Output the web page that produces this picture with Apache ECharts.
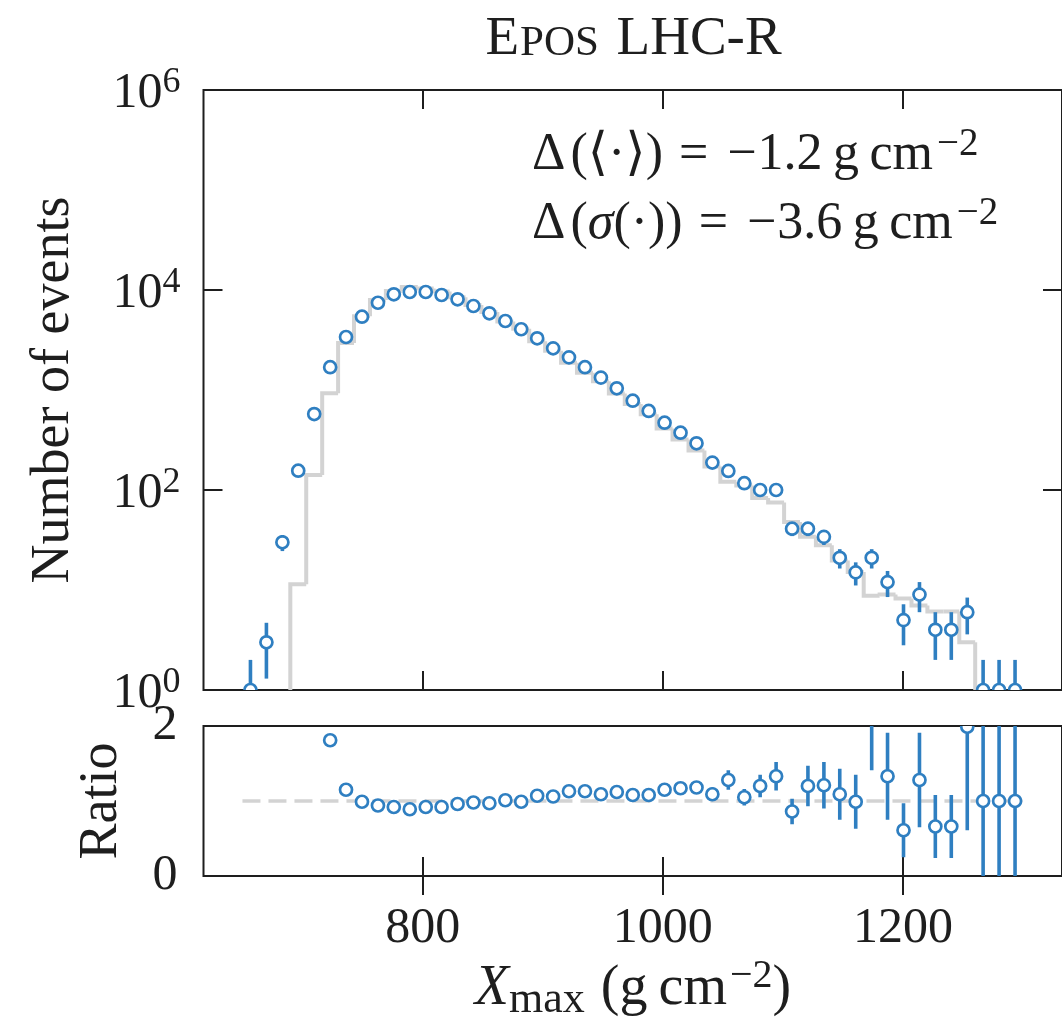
<!DOCTYPE html>
<html>
<head>
<meta charset="utf-8">
<script src="https://cdn.jsdelivr.net/npm/echarts@6/dist/echarts.min.js"></script>
<style>
html,body{margin:0;padding:0;background:#ffffff;}
#chart{width:1062px;height:1024px;}
</style>
</head>
<body>
<div id="chart"></div>
<script>
// ---------------- data ----------------
// bin centres of X_max (g cm^-2)
const xCenters = [656.6, 669.9, 683.2, 696.4, 709.7, 723.0, 736.2, 749.5, 762.8, 776.0,
  789.3, 802.6, 815.8, 829.1, 842.3, 855.6, 868.9, 882.1, 895.4, 908.7,
  921.9, 935.2, 948.5, 961.7, 975.0, 988.3, 1001.5, 1014.8, 1028.1, 1041.3,
  1054.6, 1067.9, 1081.1, 1094.4, 1107.7, 1120.9, 1134.2, 1147.4, 1160.7, 1174.0,
  1187.2, 1200.5, 1213.8, 1227.0, 1240.3, 1253.6, 1266.8, 1280.1, 1293.4];
// measured events (blue open circles)
const dataCounts = [1, 3, 30, 156, 575, 1690, 3390, 5410, 7460, 9060,
  9550, 9550, 8910, 8070, 6920, 5850, 4900, 4050, 3290, 2610,
  2120, 1690, 1330, 1040, 782, 617, 471, 374, 293, 188,
  155, 117, 100, 100, 41, 41, 34, 21, 15, 21,
  12, 5, 9, 4, 4, 6, 1, 1, 1];
const dataErr = [1, 1.7, 5.5, 12.5, 24, 41, 58, 74, 86, 95,
  98, 98, 94, 90, 83, 76, 70, 64, 57, 51,
  46, 41, 36, 32, 28, 25, 22, 19, 17, 14,
  12, 11, 10, 10, 6.4, 6.4, 5.8, 4.6, 3.9, 4.6,
  3.5, 2.2, 3, 2, 2, 2.4, 1, 1, 1];
// model histogram (grey steps)
const simCounts = [0, 0, 0, 11.4, 141, 930, 2950, 5465, 7960, 9800,
  10700, 10330, 9640, 8440, 7080, 6040, 4840, 4090, 3080, 2470,
  1870, 1490, 1220, 925, 724, 571, 411, 320, 248, 172,
  121, 111, 83, 75, 48, 34, 28, 19.7, 15.1, 8.75,
  9, 8.2, 7, 6.1, 6.1, 3, 0, 0, 0];
// ratio panel
const ratioValues = [null, null, null, null, null, 1.81, 1.15, 0.99, 0.94, 0.92,
  0.89, 0.92, 0.92, 0.96, 0.98, 0.97, 1.01, 0.99, 1.07, 1.06,
  1.13, 1.13, 1.09, 1.12, 1.08, 1.08, 1.15, 1.17, 1.18, 1.09,
  1.28, 1.05, 1.20, 1.33, 0.86, 1.20, 1.21, 1.09, 0.99, 2.4,
  1.33, 0.61, 1.28, 0.66, 0.66, 1.99, 1.0, 1.0, 1.0];
const ratioErr = [null, null, null, null, null, 0.07, 0.03, 0.02, 0.02, 0.02,
  0.02, 0.02, 0.02, 0.02, 0.02, 0.02, 0.02, 0.02, 0.03, 0.03,
  0.03, 0.04, 0.04, 0.04, 0.05, 0.05, 0.06, 0.07, 0.08, 0.09,
  0.13, 0.11, 0.15, 0.19, 0.17, 0.27, 0.31, 0.34, 0.36, 0.99,
  0.58, 0.36, 0.63, 0.42, 0.42, 1.38, 1.4, 1.4, 1.4];
const xTickValues = [800, 1000, 1200];
const ratioReference = 1;

// ---------------- style ----------------
const BLUE = '#2f7fc1';
const GREY = '#d3d3d3';
const INK = '#1e1e1e';
const FONT = "'Liberation Serif', 'DejaVu Serif', serif";
const GRID_LEFT = 203.5, GRID_W = 860;

const n = xCenters.length;
const edges = [xCenters[0] - (xCenters[1] - xCenters[0]) / 2];
for (let i = 1; i < n; i++) edges.push((xCenters[i - 1] + xCenters[i]) / 2);
edges.push(xCenters[n - 1] + (xCenters[n - 1] - xCenters[n - 2]) / 2);

const chart = echarts.init(document.getElementById('chart'), null, {renderer: 'canvas'});

function xAxisDef(gridIndex, position, showLabels) {
  return {
    type: 'value', gridIndex: gridIndex, position: position,
    min: 617.5, max: 1332.5,
    axisLine: {show: false},
    splitLine: {show: false},
    axisTick: {show: true, inside: true, length: 19, customValues: xTickValues,
      lineStyle: {color: INK, width: 2}},
    axisLabel: {show: showLabels, customValues: xTickValues, margin: 28,
      formatter: function (v) { return String(v); },
      fontSize: 50, fontFamily: FONT, color: INK}
  };
}
const tickStyle = {show: true, inside: true, length: 19, lineStyle: {color: INK, width: 2}};

function logLabel(v) {
  const e = Math.round(Math.log10(v));
  return '{b|10}{s|' + e + '}';
}
const logRich = {
  b: {fontSize: 50, fontFamily: FONT, color: INK, lineHeight: 58, verticalAlign: 'middle'},
  s: {fontSize: 36, fontFamily: FONT, color: INK, lineHeight: 36, verticalAlign: 'top'}
};

function errRender(floorVal) {
  return function (params, api) {
    const x = api.value(0), v = api.value(1), e = api.value(2);
    let lo = v - e;
    if (floorVal != null) lo = Math.max(lo, floorVal);
    const p1 = api.coord([x, lo]);
    const p2 = api.coord([x, v + e]);
    return {type: 'line', shape: {x1: p1[0], y1: p1[1], x2: p2[0], y2: p2[1]},
      style: {stroke: BLUE, lineWidth: 3.6}};
  };
}
function markerRender(params, api) {
  const p = api.coord([api.value(0), api.value(1)]);
  return {type: 'circle', shape: {cx: p[0], cy: p[1], r: 6},
    style: {fill: '#ffffff', stroke: BLUE, lineWidth: 2.7}};
}

const dataPts = xCenters.map((x, i) => [x, dataCounts[i], dataErr[i]]);
const ratioPts = [];
xCenters.forEach((x, i) => { if (ratioValues[i] != null) ratioPts.push([x, ratioValues[i], ratioErr[i]]); });

const mainTok = {fontSize: 52, lineHeight: 60, fontFamily: FONT, fill: INK, verticalAlign: 'middle'};
const annRich = {
  d: Object.assign({}, mainTok, {padding: [0, 5, 0, 0]}),
  n: mainTok,
  i: Object.assign({}, mainTok, {fontStyle: 'italic'}),
  eq: Object.assign({}, mainTok, {padding: [0, 19, 0, 16]}),
  mi: Object.assign({}, mainTok, {padding: [0, 1, 0, 0]}),
  s: {fontSize: 39, lineHeight: 38, fontFamily: FONT, fill: INK, verticalAlign: 'top', padding: [0, 0, 0, 4]}
};

const option = {
  animation: false,
  backgroundColor: '#ffffff',
  grid: [
    {left: GRID_LEFT, width: GRID_W, top: 90, height: 600, show: true,
      borderColor: INK, borderWidth: 2, backgroundColor: 'transparent'},
    {left: GRID_LEFT, width: GRID_W, top: 726, height: 150, show: true,
      borderColor: INK, borderWidth: 2, backgroundColor: 'transparent'}
  ],
  xAxis: [
    xAxisDef(0, 'bottom', false),
    xAxisDef(0, 'top', false),
    xAxisDef(1, 'bottom', true),
    xAxisDef(1, 'top', false)
  ],
  yAxis: [
    {type: 'log', logBase: 10, gridIndex: 0, position: 'left', min: 1, max: 1e6, interval: 2, splitNumber: 3,
      axisLine: {show: false}, splitLine: {show: false}, axisTick: tickStyle,
      axisLabel: {margin: 23, formatter: logLabel, rich: logRich, padding: [8, 0, 0, 0]},
      name: 'Number of events', nameLocation: 'middle', nameRotate: 90, nameGap: 123,
      nameTextStyle: {fontSize: 54, fontFamily: FONT, color: INK}},
    {type: 'log', logBase: 10, gridIndex: 0, position: 'right', min: 1, max: 1e6, interval: 2, splitNumber: 3,
      axisLine: {show: false}, splitLine: {show: false}, axisTick: tickStyle,
      axisLabel: {show: false}},
    {type: 'value', gridIndex: 1, position: 'left', min: 0, max: 2, interval: 2,
      axisLine: {show: false}, splitLine: {show: false}, axisTick: tickStyle,
      axisLabel: {margin: 26, fontSize: 50, fontFamily: FONT, color: INK, padding: [10, 0, 0, 0]},
      name: 'Ratio', nameLocation: 'middle', nameRotate: 90, nameGap: 75,
      nameTextStyle: {fontSize: 54, fontFamily: FONT, color: INK}},
    {type: 'value', gridIndex: 1, position: 'right', min: 0, max: 2, interval: 2,
      axisLine: {show: false}, splitLine: {show: false}, axisTick: tickStyle,
      axisLabel: {show: false}}
  ],
  series: [
    { // model histogram
      type: 'custom', xAxisIndex: 0, yAxisIndex: 0, clip: true, silent: true, z: 2,
      data: xCenters.map((x, i) => [x, simCounts[i]]),
      renderItem: function (params, api) {
        const i = params.dataIndex;
        const cur = simCounts[i], prev = i > 0 ? simCounts[i - 1] : 0;
        const Y = v => api.coord([xCenters[i], Math.max(v, 1)])[1];
        const xl = api.coord([edges[i], 1])[0];
        const xr = api.coord([edges[i + 1], 1])[0];
        const pts = [];
        if (prev > 0 || cur > 0) { pts.push([xl, Y(prev)]); pts.push([xl, Y(cur)]); }
        if (cur > 0) { if (!pts.length) pts.push([xl, Y(cur)]); pts.push([xr, Y(cur)]); }
        if (pts.length < 2) return null;
        return {type: 'polyline', shape: {points: pts},
          style: {stroke: GREY, lineWidth: 4, fill: null, lineJoin: 'miter'}};
      }
    },
    { // data error bars
      type: 'custom', xAxisIndex: 0, yAxisIndex: 0, clip: true, silent: true, z: 3,
      data: dataPts, renderItem: errRender(1)
    },
    { // data markers
      type: 'custom', xAxisIndex: 0, yAxisIndex: 0, clip: true, silent: true, z: 4,
      data: dataPts, renderItem: markerRender
    },
    { // reference line in ratio panel
      type: 'line', xAxisIndex: 2, yAxisIndex: 2, silent: true, z: 2, symbol: 'none',
      data: [[edges[0], ratioReference], [edges[n], ratioReference]],
      lineStyle: {color: GREY, width: 3.5, type: [18, 8]}
    },
    { // ratio error bars
      type: 'custom', xAxisIndex: 2, yAxisIndex: 2, clip: true, silent: true, z: 3,
      data: ratioPts, renderItem: errRender(null)
    },
    { // ratio markers
      type: 'custom', xAxisIndex: 2, yAxisIndex: 2, clip: true, silent: true, z: 4,
      data: ratioPts, renderItem: markerRender
    }
  ],
  graphic: [
    {type: 'text', x: 633.5, y: 40, silent: true,
      style: {text: '{a|E}{b|POS}{a| LHC-R}', align: 'center', verticalAlign: 'middle',
        rich: {
          a: {fontSize: 55, lineHeight: 55, fontFamily: FONT, fill: INK, verticalAlign: 'bottom'},
          b: {fontSize: 43, lineHeight: 43, fontFamily: FONT, fill: INK, verticalAlign: 'bottom', padding: [0, 4, 2, 1]}
        }}},
    {type: 'text', x: 532, y: 125.5, silent: true,
      style: {text: '{d|\u0394}{n|(\u27e8\u00b7\u27e9)}{eq|=}{mi|\u2212}{n|1.2\u2009g\u2009cm}{s|\u22122}',
        align: 'left', verticalAlign: 'top', rich: annRich}},
    {type: 'text', x: 532, y: 194.5, silent: true,
      style: {text: '{d|\u0394}{n|(}{i|\u03c3}{n|(\u00b7))}{eq|=}{mi|\u2212}{n|3.6\u2009g\u2009cm}{s|\u22122}',
        align: 'left', verticalAlign: 'top', rich: annRich}},
    {type: 'text', x: 633, y: 956, silent: true,
      style: {text: '{i|X}{sub|max}{n|(g\u2009cm}{s|\u22122}{n|)}', align: 'center', verticalAlign: 'top',
        rich: {
          i: {fontSize: 56, lineHeight: 66, fontFamily: FONT, fontStyle: 'italic', fill: INK, verticalAlign: 'middle'},
          sub: {fontSize: 44, lineHeight: 44, fontFamily: FONT, fill: INK, verticalAlign: 'top', padding: [22, 16, 0, 0]},
          n: {fontSize: 56, lineHeight: 66, fontFamily: FONT, fill: INK, verticalAlign: 'middle'},
          s: {fontSize: 40, lineHeight: 40, fontFamily: FONT, fill: INK, verticalAlign: 'top', padding: [0, 0, 0, 3]}
        }}}
  ]
};
chart.setOption(option);
</script>
</body>
</html>
